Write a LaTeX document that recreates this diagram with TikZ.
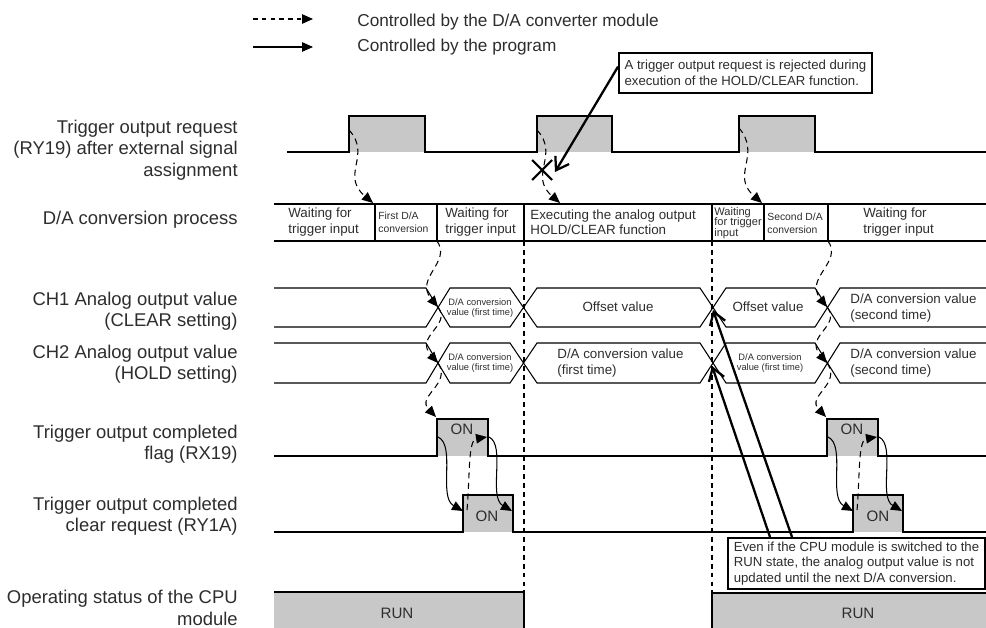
\documentclass[tikz,border=0pt]{standalone}
\usepackage{fontspec}
\setmainfont{Liberation Sans}
\usepackage{tikz}
\usetikzlibrary{arrows.meta, positioning, calc}
\usepackage{xcolor}
\definecolor{pulsegray}{RGB}{200,200,200}
\definecolor{inkgray}{RGB}{45,45,45}

\begin{document}
\begin{tikzpicture}[
    x=0.02cm, y=-0.02cm,
    wave/.style={draw=black, line width=0.6pt},
    rowlabel/.style={anchor=east, align=right, inner sep=0pt, text=inkgray, font=\fontsize{10.5}{12.2}\selectfont},
    legendtext/.style={anchor=west, inner sep=0pt, text=inkgray, font=\fontsize{9.8}{12}\selectfont},
    cell/.style={anchor=west, align=left, inner sep=0pt, text=inkgray, font=\fontsize{7.6}{8.6}\selectfont},
    tinycell/.style={anchor=west, align=left, inner sep=0pt, text=inkgray, font=\fontsize{5.9}{7.2}\selectfont},
    waitcell/.style={tinycell, font=\fontsize{6.3}{5.9}\selectfont},
    value/.style={align=center, inner sep=0pt, text=inkgray, font=\fontsize{7.6}{8.6}\selectfont},
    tinyvalue/.style={align=center, inner sep=0pt, text=inkgray, font=\fontsize{5.3}{6.1}\selectfont},
    state/.style={inner sep=0pt, text=inkgray, font=\fontsize{8.6}{10}\selectfont},
    note/.style={draw=black, line width=1.1pt, fill=white, align=left, anchor=north west, inner sep=0pt, text=inkgray, font=\fontsize{7.5}{8.9}\selectfont},
    holdline/.style={wave, dash pattern=on 2.8pt off 2.3pt},
    modarrow/.style={line width=0.6pt, dash pattern=on 3.5pt off 2.5pt, -{Triangle[length=2.2mm, width=1.9mm]}},
    progarrow/.style={line width=0.6pt, -{Triangle[length=2.2mm, width=1.9mm]}},
    callout/.style={line width=1.3pt, -{Straight Barb[length=2.4mm, width=3.2mm]}},
]
\useasboundingbox (0,0) rectangle (986,628);

% Legend
\coordinate (legDashA) at (253,19);
\coordinate (legDashB) at (313,19);
\coordinate (legSolidA) at (253,47);
\coordinate (legSolidB) at (313,47);
\draw[modarrow, dash pattern=on 2.6pt off 2.4pt] (legDashA) -- (legDashB);
\draw[progarrow] (legSolidA) -- (legSolidB);
\node[legendtext, right=0.88cm of legDashB, yshift=-0.06cm] (legDash) {Controlled by the D/A converter module};
\node[legendtext, right=0.88cm of legSolidB] (legSolid) {Controlled by the program};

% Row labels
\node[rowlabel] (lblTrig) at (238,150) {Trigger output request\\(RY19) after external signal\\assignment};
\node[rowlabel] (lblProc) at (238,220) {D/A conversion process};
\node[rowlabel] (lblCHa) at (238,311) {CH1 Analog output value\\(CLEAR setting)};
\node[rowlabel] (lblCHb) at (238,364) {CH2 Analog output value\\(HOLD setting)};
\node[rowlabel] (lblFlag) at (238,444) {Trigger output completed\\flag (RX19)};
\node[rowlabel] (lblClr) at (238,516) {Trigger output completed\\clear request (RY1A)};
\node[rowlabel] (lblCPU) at (238,608) {Operating status of the CPU\\module};

% Trigger output request (RY19)
\fill[pulsegray] (349,116) rectangle (425,152);
\fill[pulsegray] (537,116) rectangle (612,152);
\fill[pulsegray] (739,116) rectangle (815,152);
\draw[wave] (287,152) -| (349,116) -| (425,152) -| (537,116) -| (612,152) -| (739,116) -| (815,152) -- (986,152);

% D/A conversion process
\draw[wave] (274,204) -- (986,204);
\draw[wave] (274,241) -- (986,241);
\draw[wave] (375,204) -- (375,241) (437,204) -- (437,241) (524,204) -- (524,241)
    (712,204) -- (712,241) (764,204) -- (764,241) (828,204) -- (828,241);
\node[cell] (procWaitA) at (288,222) {Waiting for\\trigger input};
\node[tinycell] (procFirst) at (378,222) {First D/A\\conversion};
\node[cell] (procWaitB) at (445,222) {Waiting for\\trigger input};
\node[cell] (procHold) at (530,222) {Executing the analog output\\HOLD/CLEAR function};
\node[waitcell] (procWaitC) at (714,223) {Waiting\\for trigger\\input};
\node[tinycell] (procSecond) at (767,223) {Second D/A\\conversion};
\node[cell] (procWaitD) at (863,222) {Waiting for\\trigger input};

% CH1 / CH2 analog output values
\draw[wave] (274,288) -- (426,288) -- (450,327) -- (510,327) -- (537,288) -- (700,288) -- (726,327) -- (815,327) -- (840,288) -- (986,288);
\draw[wave] (274,327) -- (426,327) -- (450,288) -- (510,288) -- (537,327) -- (700,327) -- (726,288) -- (815,288) -- (840,327) -- (986,327);
\draw[wave] (274,343) -- (426,343) -- (450,383) -- (510,383) -- (537,343) -- (700,343) -- (726,383) -- (815,383) -- (840,343) -- (986,343);
\draw[wave] (274,383) -- (426,383) -- (450,343) -- (510,343) -- (537,383) -- (700,383) -- (726,343) -- (815,343) -- (840,383) -- (986,383);
\node[tinyvalue] (chaFirst) at (480,308) {D/A conversion\\value (first time)};
\node[value] (chaOffsetA) at (618,307) {Offset value};
\node[value] (chaOffsetB) at (768,307) {Offset value};
\node[cell] (chaSecond) at (850,308) {D/A conversion value\\(second time)};
\node[tinyvalue] (chbFirstA) at (480,363) {D/A conversion\\value (first time)};
\node[cell] (chbFirstB) at (557,363) {D/A conversion value\\(first time)};
\node[tinyvalue] (chbFirstC) at (770,363) {D/A conversion\\value (first time)};
\node[cell] (chbSecond) at (850,363) {D/A conversion value\\(second time)};

% Trigger output completed flag (RX19)
\fill[pulsegray] (437,419) rectangle (488,456);
\fill[pulsegray] (827,419) rectangle (878,456);
\draw[wave] (274,456) -| (437,419) -| (488,456) -| (827,419) -| (878,456) -- (986,456);
\node[state] (flagOnA) at (462,429) {ON};
\node[state] (flagOnB) at (852,429) {ON};

% Trigger output completed clear request (RY1A)
\fill[pulsegray] (463,495) rectangle (513,532);
\fill[pulsegray] (853,495) rectangle (903,532);
\draw[wave] (274,532) -| (463,495) -| (513,532) -| (853,495) -| (903,532) -- (986,532);
\node[state] (clrOnA) at (487,516) {ON};
\node[state] (clrOnB) at (878,516) {ON};

% Operating status of the CPU module
\fill[pulsegray] (274,592) rectangle (524,628);
\fill[pulsegray] (712,593) rectangle (986,628);
\draw[wave] (274,592) -- (524,592) -- (524,628);
\draw[wave] (712,628) -- (712,593) -- (986,593);
\node[state] (runA) at (397,613) {RUN};
\node[state] (runB) at (858,613) {RUN};

% HOLD/CLEAR boundaries
\coordinate (stopTop) at (524,241);
\coordinate (stopBot) at (524,592);
\coordinate (restartTop) at (712,241);
\coordinate (restartBot) at (712,593);
\draw[holdline] (stopTop) -- (stopBot);
\draw[holdline] (restartTop) -- (restartBot);

% Module controlled transitions
\coordinate (trigA) at (349,130);
\coordinate (trigB) at (537,130);
\coordinate (trigC) at (739,128);
\coordinate (procInA) at (373,203);
\coordinate (procInB) at (560,203);
\coordinate (procInC) at (762,203);
\draw[modarrow] (trigA) .. controls (372,155) and (340,175) .. (procInA);
\draw[modarrow] (trigB) .. controls (560,155) and (528,175) .. (procInB);
\draw[modarrow] (trigC) .. controls (762,155) and (730,175) .. (procInC);

\coordinate (procOutA) at (437,241);
\coordinate (crossCHaA) at (438,307);
\coordinate (crossCHbA) at (438,363);
\coordinate (flagInA) at (436,417);
\draw[modarrow] (procOutA) .. controls (452,262) and (414,278) .. (crossCHaA);
\draw[modarrow] (crossCHaA) .. controls (452,326) and (414,336) .. (crossCHbA);
\draw[modarrow] (crossCHbA) .. controls (452,384) and (416,396) .. (flagInA);

\coordinate (procOutB) at (828,241);
\coordinate (crossCHaB) at (827,307);
\coordinate (crossCHbB) at (827,363);
\coordinate (flagInB) at (826,417);
\draw[modarrow] (procOutB) .. controls (843,262) and (804,278) .. (crossCHaB);
\draw[modarrow] (crossCHaB) .. controls (842,326) and (804,336) .. (crossCHbB);
\draw[modarrow] (crossCHbB) .. controls (842,384) and (806,396) .. (flagInB);

% Flag / clear request handshake
\coordinate (flagSetA) at (438,437);
\coordinate (clrLeftA) at (463,511);
\coordinate (clrInA) at (467,510);
\coordinate (flagRightA) at (487,437);
\coordinate (flagOutA) at (489,437);
\coordinate (clrRightA) at (512,511);
\draw[progarrow] (flagSetA) .. controls (456,445) and (438,497) .. (clrLeftA);
\draw[modarrow] (clrInA) .. controls (470,475) and (468,440) .. (flagRightA);
\draw[progarrow] (flagOutA) .. controls (506,445) and (488,497) .. (clrRightA);

\coordinate (flagSetB) at (828,437);
\coordinate (clrLeftB) at (853,511);
\coordinate (clrInB) at (857,510);
\coordinate (flagRightB) at (877,437);
\coordinate (flagOutB) at (879,437);
\coordinate (clrRightB) at (902,511);
\draw[progarrow] (flagSetB) .. controls (846,445) and (828,497) .. (clrLeftB);
\draw[modarrow] (clrInB) .. controls (860,475) and (858,440) .. (flagRightB);
\draw[progarrow] (flagOutB) .. controls (896,445) and (878,497) .. (clrRightB);

% Rejected trigger
\node[note, minimum width=5.06cm, minimum height=0.8cm] (rejectNote) at (618,52)
    {A trigger output request is rejected during\\execution of the HOLD/CLEAR function.};
\coordinate (rejectFrom) at ($(rejectNote.north west)!0.35!(rejectNote.south west)$);
\coordinate (rejectTip) at (555,172);
\coordinate (rejectMark) at (542,170);
\draw[callout] (rejectFrom) -- (rejectTip);
\draw[line width=1.2pt] ($(rejectMark)+(-10,-10)$) -- ($(rejectMark)+(10,10)$)
    ($(rejectMark)+(-10,10)$) -- ($(rejectMark)+(10,-10)$);

% RUN state note
\node[note, minimum width=5.14cm, minimum height=1.02cm] (runNote) at (727,537)
    {Even if the CPU module is switched to the\\RUN state, the analog output value is not\\updated until the next D/A conversion.};
\coordinate (runFromA) at ($(runNote.north west)+(65,0)$);
\coordinate (runFromB) at ($(runNote.north west)+(43,0)$);
\coordinate (holdTipA) at (713,310);
\coordinate (holdTipB) at (712,366);
\draw[callout] (runFromA) -- (holdTipA);
\draw[callout] (runFromB) -- (holdTipB);

\end{tikzpicture}
\end{document}
